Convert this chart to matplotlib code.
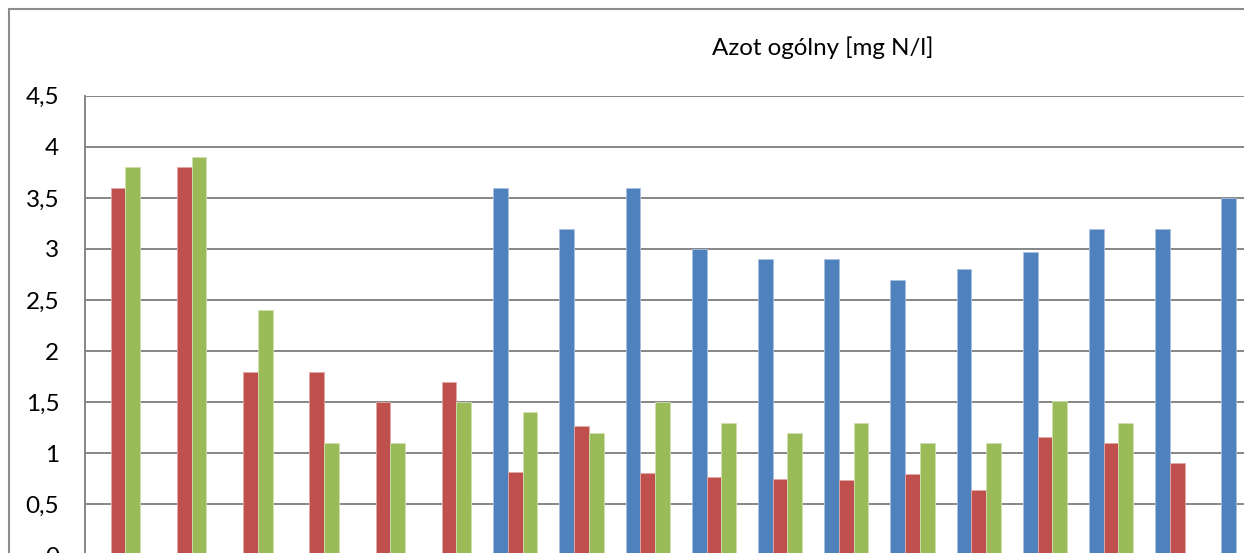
import numpy as np
import matplotlib
matplotlib.use('Agg')
import matplotlib.pyplot as plt
from matplotlib.patches import Rectangle

# data (nan = no bar)
groups = np.arange(18)
blue = [np.nan, np.nan, np.nan, np.nan, np.nan, np.nan,
        3.6, 3.2, 3.6, 3.0, 2.9, 2.9, 2.7, 2.8, 2.97, 3.2, 3.2, 3.5]
red = [3.6, 3.8, 1.8, 1.8, 1.5, 1.7,
       0.82, 1.27, 0.81, 0.77, 0.75, 0.74, 0.80, 0.64, 1.16, 1.10, 0.90, np.nan]
green = [3.8, 3.9, 2.4, 1.1, 1.1, 1.5,
         1.4, 1.2, 1.5, 1.3, 1.2, 1.3, 1.1, 1.1, 1.51, 1.3, np.nan, np.nan]
yticks = [0, 0.5, 1, 1.5, 2, 2.5, 3, 3.5, 4, 4.5]
title = 'Azot ogólny [mg N/l]'

plt.rcParams['font.family'] = ['Lato', 'DejaVu Sans']

W, H = 1244, 553
fig = plt.figure(figsize=(W / 100, H / 100), dpi=100)

# chart area border (cut off at right/bottom)
fig.patches.append(Rectangle((9 / W, -0.1), 1.2, (H - 9) / H + 0.1,
                             transform=fig.transFigure, fill=False,
                             edgecolor='#8c8c8c', linewidth=1.5))

ax = fig.add_axes([85 / W, (H - 555.4) / H, 1 - 85 / W, (555.4 - 95.7) / H])

bw = 0.222
kw = dict(width=bw, linewidth=0.6, zorder=3)
ax.bar(groups - bw, blue, color='#4F81BD', edgecolor='#a9c1e0', **kw)
ax.bar(groups, red, color='#C0504D', edgecolor='#e3a9a7', **kw)
ax.bar(groups + bw, green, color='#9BBB59', edgecolor='#cde0ae', **kw)

ax.set_xlim(-0.5, -0.5 + (W - 85) / 66.2)
ax.set_ylim(0, 4.5)
ax.set_yticks(yticks)
ax.set_yticklabels([('%g' % v).replace('.', ',') for v in yticks],
                   fontsize=17.5)
ax.tick_params(axis='y', length=0, pad=18.5)
ax.set_xticks([])
ax.yaxis.grid(True, color='#868686', linewidth=1.4, zorder=0)
ax.set_axisbelow(True)

for s in ['right', 'bottom', 'top']:
    ax.spines[s].set_visible(False)
ax.spines['left'].set_color('#868686')
ax.spines['left'].set_linewidth(1.4)

fig.text(822.5 / W, 1 - 48 / H, title, ha='center', va='center', fontsize=17.4)

fig.savefig('out.png', dpi=100)
